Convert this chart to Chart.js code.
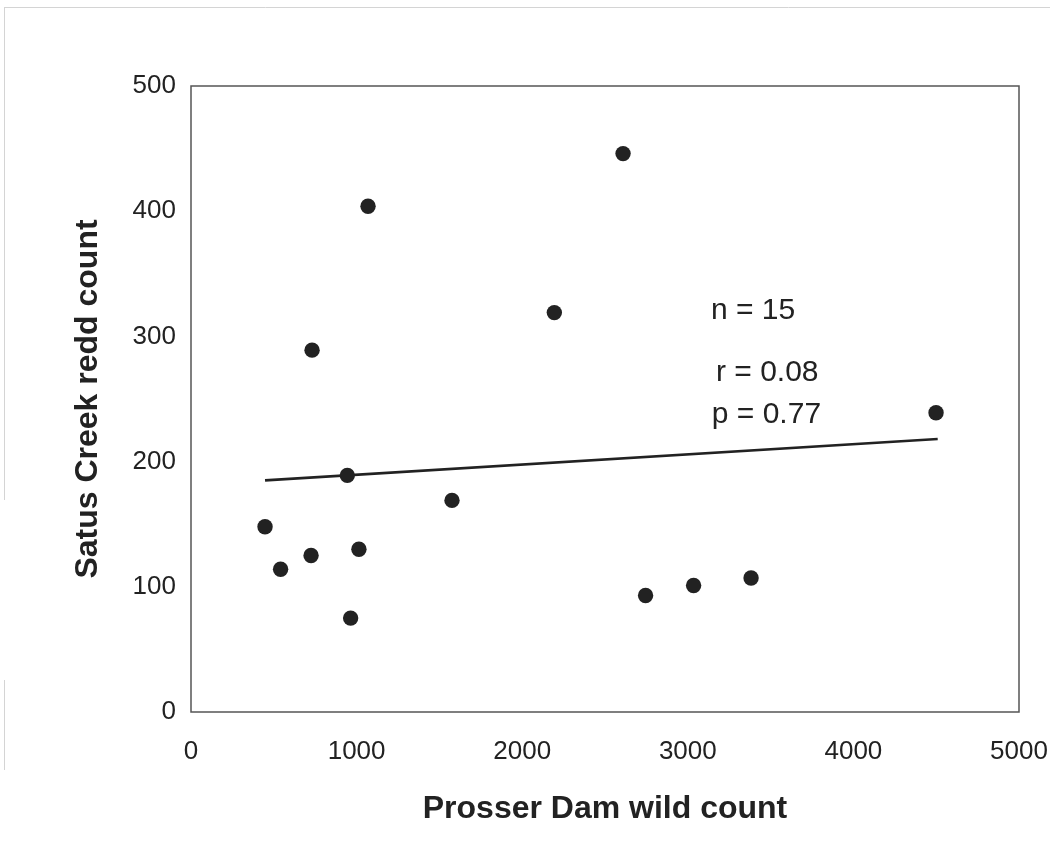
<!DOCTYPE html>
<html>
<head>
<meta charset="utf-8">
<script src="https://cdn.jsdelivr.net/npm/chart.js@4/dist/chart.umd.min.js"></script>
<style>
  html, body { margin: 0; padding: 0; background: #fff; }
  #chart { display: block; }
</style>
</head>
<body>
<canvas id="chart" width="1050" height="848"></canvas>
<script>
// données
const wildCount = [447, 541, 725, 731, 944, 964, 1014, 1069, 1576, 2194, 2609, 2745, 3035, 3382, 4499];
const reddCount = [148, 114, 125, 289, 189, 75, 130, 404, 169, 319, 446, 93, 101, 107, 239];

// droite de régression (extrémités)
const trendX = [447, 4509];
const trendY = [185, 218];

const xTicks = [0, 1000, 2000, 3000, 4000, 5000];
const yTicks = [0, 100, 200, 300, 400, 500];

const statLabels = ['n = 15', 'r = 0.08', 'p = 0.77'];

const FONT = "'Liberation Sans', Arial, sans-serif";
const INK = '#222';

const points = wildCount.map((x, i) => ({ x: x, y: reddCount[i] }));
const trend = trendX.map((x, i) => ({ x: x, y: trendY[i] }));

// cadre du graphique + léger bord de page
const framePlugin = {
  id: 'frame',
  beforeDraw(chart) {
    const c = chart.ctx;
    c.save();
    c.fillStyle = '#fff';
    c.fillRect(0, 0, chart.width, chart.height);
    c.strokeStyle = '#d4d4d4';
    c.lineWidth = 1;
    c.beginPath();
    c.moveTo(4, 7.5); c.lineTo(chart.width, 7.5);
    c.moveTo(4.5, 7); c.lineTo(4.5, 500);
    c.moveTo(4.5, 680); c.lineTo(4.5, 770);
    c.stroke();
    c.restore();
  },
  afterDraw(chart) {
    const a = chart.chartArea;
    const c = chart.ctx;
    c.save();
    c.strokeStyle = '#555';
    c.lineWidth = 1.5;
    c.strokeRect(a.left, a.top, a.right - a.left, a.bottom - a.top);
    c.restore();
  }
};

// textes n, r, p
const statsPlugin = {
  id: 'stats',
  afterDatasetsDraw(chart, args, opts) {
    const c = chart.ctx;
    const sx = chart.scales.x, sy = chart.scales.y;
    c.save();
    c.fillStyle = INK;
    c.font = '30px ' + FONT;
    c.textAlign = 'left';
    c.textBaseline = 'alphabetic';
    statLabels.forEach((t, i) => {
      const p = opts.at[i];
      c.fillText(t, sx.getPixelForValue(p[0]), sy.getPixelForValue(p[1]));
    });
    c.restore();
  }
};

const tickFont = { family: FONT, size: 26 };
const titleFont = { family: FONT, size: 32, weight: 'bold' };
const plain = v => String(v);

new Chart(document.getElementById('chart'), {
  type: 'scatter',
  data: {
    datasets: [
      {
        data: points,
        pointRadius: 7.7,
        pointBackgroundColor: INK,
        pointBorderWidth: 0
      },
      {
        type: 'line',
        data: trend,
        borderColor: INK,
        borderWidth: 2.6,
        pointRadius: 0,
        fill: false
      }
    ]
  },
  options: {
    responsive: false,
    animation: false,
    layout: { padding: { top: 86, right: 31, left: 0, bottom: 0 } },
    plugins: {
      legend: { display: false },
      tooltip: { enabled: false },
      stats: { at: [[3140, 314], [3170, 264], [3145, 231]] }
    },
    scales: {
      x: {
        type: 'linear',
        min: 0, max: 5000,
        afterBuildTicks: s => { s.ticks = xTicks.map(v => ({ value: v })); },
        afterFit: s => { s.height = 136; s.paddingRight = 0; s.paddingLeft = 0; },
        ticks: { font: tickFont, color: INK, padding: 24, maxRotation: 0, callback: plain },
        grid: { display: false, drawTicks: false },
        border: { display: false },
        title: { display: true, text: 'Prosser Dam wild count', font: titleFont, color: INK, padding: { top: 0, bottom: 20 } }
      },
      y: {
        type: 'linear',
        min: 0, max: 500,
        afterBuildTicks: s => { s.ticks = yTicks.map(v => ({ value: v })); },
        afterFit: s => { s.width = 191; s.paddingTop = 0; s.paddingBottom = 0; },
        ticks: { font: tickFont, color: INK, padding: 15, callback: plain },
        grid: { display: false, drawTicks: false },
        border: { display: false },
        title: { display: true, text: 'Satus Creek redd count', font: titleFont, color: INK, padding: { top: 69, bottom: 0 } }
      }
    }
  },
  plugins: [framePlugin, statsPlugin]
});
</script>
</body>
</html>
